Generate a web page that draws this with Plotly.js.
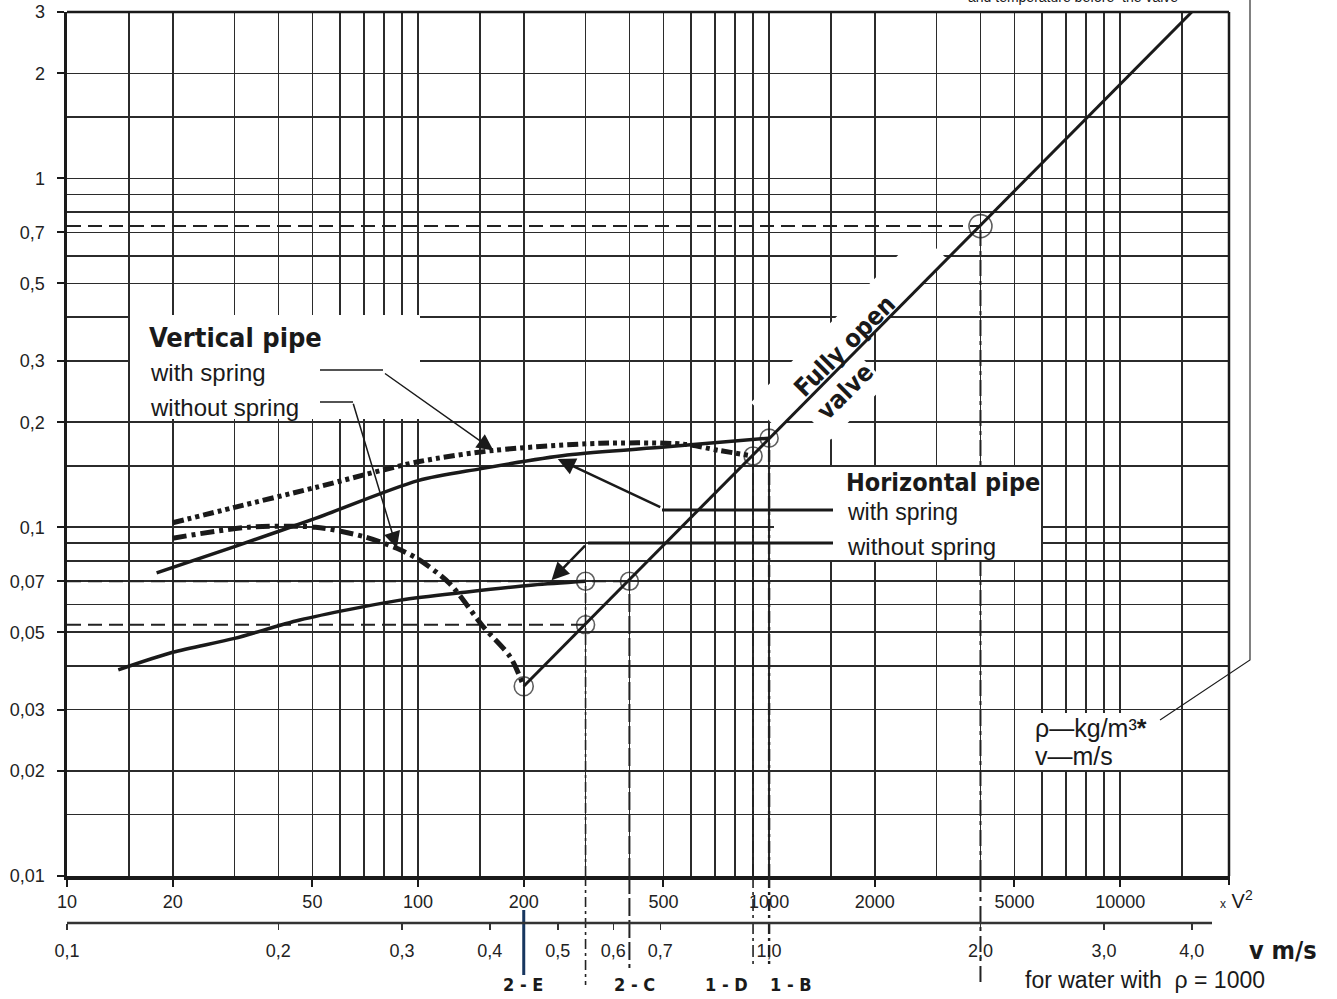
<!DOCTYPE html>
<html>
<head>
<meta charset="utf-8">
<script src="https://cdn.plot.ly/plotly-3.0.1.min.js"></script>
<style>
html,body{margin:0;padding:0;background:#fff;}
#chart{width:1337px;height:999px;}
</style>
</head>
<body>
<div id="chart"></div>
<script>
// ---------------- data ----------------
// x = rho * v^2 , y = pressure drop
const vertWithX = [20, 30, 51, 100, 164, 330, 570, 720, 900];
const vertWithY = [0.103, 0.114, 0.130, 0.154, 0.166, 0.174, 0.173, 0.166, 0.160];

const vertWithoutX = [20, 33, 51, 70, 87, 100, 123, 153, 183, 200];
const vertWithoutY = [0.093, 0.100, 0.100, 0.094, 0.087, 0.081, 0.069, 0.052, 0.0425, 0.035];

const horWithX = [18, 30, 51, 100, 150, 266, 512, 1000];
const horWithY = [0.074, 0.088, 0.106, 0.136, 0.147, 0.161, 0.170, 0.180];

const horWithoutX = [14, 20, 30, 46, 89, 138, 213, 300];
const horWithoutY = [0.039, 0.0438, 0.048, 0.0542, 0.0618, 0.0652, 0.0683, 0.070];

const fullyOpenX = [200, 16000];
const fullyOpenY = [0.035, 3.0];

const circleX = [200, 300, 300, 400, 900, 1000, 4000];
const circleY = [0.035, 0.0525, 0.07, 0.07, 0.16, 0.18, 0.73];
const circleSize = [19, 18, 18, 18, 18, 18, 23];

// dashed reading guides
const hGuideY = [0.73, 0.07, 0.0525];
const hGuideXEnd = [4000, 400, 300];
const vGuideX = [200, 300, 400, 900, 1000, 4000];
const vGuideTop = [0.035, 0.07, 0.07, 0.16, 0.18, 0.73];
const guideLabels = ['2 - E', '2 - C', '1 - D', '1 - B'];

// axes
const xTickVals = [10, 20, 50, 100, 200, 500, 1000, 2000, 5000, 10000];
const xTickText = ['10', '20', '50', '100', '200', '500', '1000', '2000', '5000', '10000'];
const xMinorGrid = [15, 30, 40, 60, 70, 80, 90, 150, 300, 400, 600, 700, 800, 900, 1500, 3000, 4000, 6000, 7000, 8000, 9000, 15000];
const yTickVals = [3, 2, 1, 0.7, 0.5, 0.3, 0.2, 0.1, 0.07, 0.05, 0.03, 0.02, 0.01];
const yTickText = ['3', '2', '1', '0,7', '0,5', '0,3', '0,2', '0,1', '0,07', '0,05', '0,03', '0,02', '0,01'];
const yMinorGrid = [1.5, 0.9, 0.8, 0.6, 0.4, 0.15, 0.09, 0.08, 0.06, 0.04, 0.015];
const vTickVals = [0.1, 0.2, 0.3, 0.4, 0.5, 0.6, 0.7, 1.0, 2.0, 3.0, 4.0];
const vTickText = ['0,1', '0,2', '0,3', '0,4', '0,5', '0,6', '0,7', '1,0', '2,0', '3,0', '4,0'];
const xRangeLog = [1, 4.31];
const yRangeLog = [-2, Math.log10(3)];
const rhoWater = 1000;

// ---------------- layout helpers (page geometry) ----------------
const PL = 67, PR = 1229, PT = 12, PB = 923, AXB = 876;
const fx = p => (p - PL) / (PR - PL);          // paper x
const fy = p => (PB - p) / (PB - PT);          // paper y
// page pixel -> axis value (for decorative knock-out boxes only)
const dX = p => Math.pow(10, xRangeLog[0] + (p - PL) / (PR - PL) * (xRangeLog[1] - xRangeLog[0]));
const dY = p => Math.pow(10, yRangeLog[0] + (AXB - p) / (AXB - PT) * (yRangeLog[1] - yRangeLog[0]));
const L10 = Math.log10;

const NARROW = 'Liberation Sans Narrow, DejaVu Sans Condensed, Arial Narrow, Liberation Sans, sans-serif';
const REG = 'Liberation Sans, Arial, sans-serif';
const INK = '#1a1a1a';

// ---------------- traces ----------------
const sm = {shape: 'spline', smoothing: 0.8};
const traces = [
  {x: vertWithX, y: vertWithY, mode: 'lines', line: Object.assign({color: INK, width: 5, dash: '11px,4px,4px,4px,4px,4px'}, sm), hoverinfo: 'skip'},
  {x: vertWithoutX, y: vertWithoutY, mode: 'lines', line: Object.assign({color: INK, width: 5, dash: '14px,5px,4px,5px'}, sm), hoverinfo: 'skip'},
  {x: horWithX, y: horWithY, mode: 'lines', line: Object.assign({color: INK, width: 3.5}, sm), hoverinfo: 'skip'},
  {x: horWithoutX, y: horWithoutY, mode: 'lines', line: Object.assign({color: INK, width: 3.5}, sm), hoverinfo: 'skip'},
  {x: fullyOpenX, y: fullyOpenY, mode: 'lines', line: {color: INK, width: 3}, hoverinfo: 'skip'},
  {x: circleX, y: circleY, mode: 'markers', marker: {symbol: 'circle-open', size: circleSize, color: INK, line: {width: 1.6, color: INK}}, hoverinfo: 'skip'},
  // invisible anchor for the velocity axis
  {x: [vTickVals[0]], y: [yTickVals[yTickVals.length - 1]], xaxis: 'x2', yaxis: 'y', mode: 'markers', marker: {opacity: 0}, hoverinfo: 'skip'}
];

// ---------------- shapes ----------------
const shapes = [];

// horizontal dashed guides
hGuideY.forEach((yv, i) => {
  shapes.push({type: 'line', xref: 'x', yref: 'y', x0: 10, x1: hGuideXEnd[i], y0: yv, y1: yv,
    line: {color: '#222', width: 2, dash: '14px,7px'}, layer: 'between'});
});

// vertical guides
const vStyles = [
  {dash: 'solid', width: 1.5, bottom: 883},
  {dash: '10px,4px,3px,4px', width: 1.6, bottom: 985},
  {dash: '18px,4px', width: 2, bottom: 968},
  {dash: '12px,4px,3px,4px', width: 1.6, bottom: 968},
  {dash: '12px,4px,3px,4px', width: 2.4, bottom: 968},
  {dash: '16px,5px,4px,5px', width: 2, bottom: 985}
];
vGuideX.forEach((xv, i) => {
  const s = vStyles[i];
  shapes.push({type: 'line', xref: 'x', yref: 'y', x0: xv, x1: xv, y0: 0.01, y1: vGuideTop[i],
    line: {color: '#222', width: s.width, dash: s.dash}, layer: 'between'});
  shapes.push({type: 'line', xref: 'x', yref: 'paper', x0: xv, x1: xv, y0: fy(AXB), y1: fy(s.bottom),
    line: {color: '#222', width: s.width, dash: s.dash}, layer: 'above'});
});

// white knock-out boxes behind the labels
function whiteRect(x0, y0, x1, y1) {
  shapes.push({type: 'rect', xref: 'x', yref: 'y', x0: dX(x0), x1: dX(x1), y0: dY(y1), y1: dY(y0),
    fillcolor: '#ffffff', line: {width: 0}, layer: 'between'});
}
whiteRect(130, 315, 420, 419);   // Vertical pipe box
whiteRect(774, 467, 1041, 560);  // Horizontal pipe box
whiteRect(1030, 713, 1162, 770); // rho box
(function () {                    // behind "Fully open valve"
  const Q = [852, 355], u = [0.7071, -0.7071], n = [0.7071, 0.7071];
  const pts = [[-105, -38], [135, -38], [135, 0], [5, 0], [5, 45], [-75, 45], [-75, 0], [-105, 0]];
  const path = pts.map((ab, i) => {
    const px = Q[0] + ab[0] * u[0] + ab[1] * n[0];
    const py = Q[1] + ab[0] * u[1] + ab[1] * n[1];
    return (i ? 'L' : 'M') + dX(px).toFixed(3) + ',' + dY(py).toFixed(6);
  }).join(' ') + ' Z';
  shapes.push({type: 'path', xref: 'x', yref: 'y', path: path, fillcolor: '#ffffff', line: {width: 0}, layer: 'between'});
})();

// blue marker under 2-E
shapes.push({type: 'line', xref: 'x', yref: 'paper', x0: vGuideX[0], x1: vGuideX[0], y0: fy(910), y1: fy(975),
  line: {color: '#17365f', width: 3}, layer: 'above'});

// frame: top and right border, end tick, velocity axis line
shapes.push({type: 'line', xref: 'paper', yref: 'paper', x0: 0, x1: 1, y0: 1, y1: 1, line: {color: INK, width: 2.5}});
shapes.push({type: 'line', xref: 'paper', yref: 'paper', x0: 1, x1: 1, y0: fy(AXB), y1: 1, line: {color: INK, width: 2.5}});
shapes.push({type: 'line', xref: 'paper', yref: 'paper', x0: 1, x1: 1, y0: fy(AXB), y1: fy(AXB + 9), line: {color: INK, width: 2}});
shapes.push({type: 'line', xref: 'paper', yref: 'paper', x0: 0, x1: fx(1212), y0: 0, y1: 0, line: {color: '#333', width: 2.5}});

// leader lines
function seg(x0, y0, x1, y1, w) {
  shapes.push({type: 'line', xref: 'paper', yref: 'paper', x0: fx(x0), x1: fx(x1), y0: fy(y0), y1: fy(y1),
    line: {color: INK, width: w}});
}
seg(320, 370, 383, 370, 1.5);
seg(320, 402, 353, 402, 1.5);
seg(662, 510, 833, 510, 3);
seg(588, 543, 833, 543, 3);
// footnote leader at right
shapes.push({type: 'path', xref: 'paper', yref: 'paper',
  path: 'M' + fx(1250) + ',' + fy(-5) + ' L' + fx(1250) + ',' + fy(660) + ' L' + fx(1160) + ',' + fy(720),
  line: {color: INK, width: 1.1}});

// ---------------- annotations ----------------
const ann = [];
function txt(t, x, y, size, fam, xanchor, extra) {
  ann.push(Object.assign({text: t, xref: 'paper', yref: 'paper', x: fx(x), y: fy(y), xanchor: xanchor || 'left',
    yanchor: 'middle', showarrow: false, font: {family: fam, size: size, color: INK}, borderpad: 0}, extra || {}));
}
txt('<b>Vertical pipe</b>', 148, 338, 27, NARROW);
txt('with spring', 149, 372, 24, REG);
txt('without spring', 149, 407, 24, REG);
txt('<b>Horizontal pipe</b>', 845, 483, 25, NARROW);
txt('with spring', 846, 512, 23, REG);
txt('without spring', 846, 546, 24, REG);
txt('<b>Fully open<br>valve</b>', 856, 358, 25, NARROW, 'center', {textangle: -45, align: 'left'});
txt('ρ—kg/m³<b>*</b>', 1034, 728, 25, REG);
txt('v—m/s', 1034, 756, 25, REG);
txt("<span style='font-size:12px'>x</span> V<sup>2</sup>", 1236, 899, 20, REG, 'center');
txt('<b>v m/s</b>', 1283, 950, 25, NARROW, 'center');
txt('for water with\u00a0 ρ = ' + rhoWater, 1145, 980, 23, REG, 'center');
txt('and temperature before\u00a0 the valve', 1073, -3, 14, REG, 'center');
const gLabX = [523, 634, 726, 791];
guideLabels.forEach((g, i) => txt('<b>' + g + '</b>', gLabX[i], 984, 18, NARROW, 'center'));

// arrows (heads on the curves)
function arrow(hx, hy, ax, ay, w, s) {
  ann.push({x: L10(hx), y: L10(hy), xref: 'x', yref: 'y', ax: ax, ay: ay, text: '', showarrow: true,
    arrowhead: 2, arrowsize: s, arrowwidth: w, arrowcolor: INK, standoff: 0});
}
arrow(164, 0.166, -110, -78, 1.5, 2.2);
arrow(87, 0.087, -44, -146, 1.5, 2.2);
arrow(250, 0.157, 104, 49, 2.5, 1.4);
arrow(240, 0.0705, 35, -36, 2.5, 1.4);

// ---------------- layout ----------------
const gridCol = '#2b2b2b';
const layout = {
  width: 1337, height: 999,
  margin: {l: PL, r: 1337 - PR, t: PT, b: 999 - PB, pad: 0},
  paper_bgcolor: '#ffffff', plot_bgcolor: '#ffffff',
  showlegend: false,
  font: {family: REG, size: 18, color: INK},
  xaxis: {
    type: 'log', range: xRangeLog, domain: [0, 1], anchor: 'y',
    tickmode: 'array', tickvals: xTickVals, ticktext: xTickText,
    ticks: 'outside', ticklen: 7, tickwidth: 2, tickcolor: INK,
    showline: true, linewidth: 3.5, linecolor: INK,
    showgrid: true, gridcolor: gridCol, gridwidth: 1.7,
    minor: {tickmode: 'array', tickvals: xMinorGrid, showgrid: true, gridcolor: gridCol, gridwidth: 1.7, ticks: ''},
    zeroline: false, tickfont: {family: REG, size: 18, color: '#222'}, ticklabelstandoff: 0
  },
  yaxis: {
    type: 'log', range: yRangeLog, domain: [fy(AXB), 1], anchor: 'x',
    tickmode: 'array', tickvals: yTickVals, ticktext: yTickText,
    ticks: 'outside', ticklen: 7, tickwidth: 2, tickcolor: INK,
    showline: true, linewidth: 3.5, linecolor: INK,
    showgrid: true, gridcolor: gridCol, gridwidth: 1.7,
    minor: {tickmode: 'array', tickvals: yMinorGrid, showgrid: true, gridcolor: gridCol, gridwidth: 1.7, ticks: ''},
    zeroline: false, tickfont: {family: REG, size: 18, color: '#222'}, ticklabelstandoff: 8
  },
  xaxis2: {
    type: 'log', overlaying: 'x', anchor: 'free', position: 0, side: 'bottom',
    range: xRangeLog.map(r => (r - L10(rhoWater)) / 2),
    tickmode: 'array', tickvals: vTickVals, ticktext: vTickText,
    ticks: 'outside', ticklen: 6, tickwidth: 1.6, tickcolor: '#333',
    showline: false, showgrid: false, zeroline: false,
    tickfont: {family: REG, size: 18, color: '#222'}, ticklabelstandoff: 5
  },
  shapes: shapes,
  annotations: ann
};

Plotly.newPlot('chart', traces, layout, {staticPlot: true, displayModeBar: false});
</script>
</body>
</html>
